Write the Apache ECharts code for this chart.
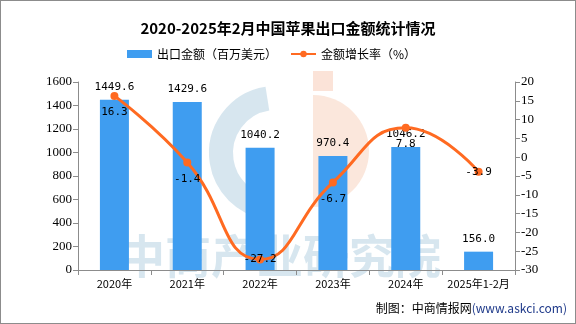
<!DOCTYPE html>
<html><head><meta charset="utf-8">
<script src="https://cdn.jsdelivr.net/npm/echarts@6/dist/echarts.min.js"></script>
<style>
html,body{margin:0;padding:0;background:#fff;}
#c{width:574px;height:322px;border:1px solid #8c8c8c;}
</style></head>
<body><div id="c"></div>
<script>
const categories = ['2020年','2021年','2022年','2023年','2024年','2025年1-2月'];
const exportValue = [1449.6,1429.6,1040.2,970.4,1046.2,156.0];
const growthRate = [16.3,-1.4,-27.2,-6.7,7.8,-3.9];
const growthLabelPos = ['bottom','bottom','inside','bottom','bottom','inside'];
const leftTicks = {min:0,max:1600,interval:200};
const rightTicks = {min:-30,max:20,interval:5};

const chart = echarts.init(document.getElementById('c'));
const CJK = '"Noto Sans CJK SC", sans-serif';
chart.setOption({
  animation:false,
  title:{text:'2020-2025年2月中国苹果出口金额统计情况',left:'center',top:15,
    textStyle:{fontFamily:CJK,fontSize:15,fontWeight:'bold',color:'#000'}},
  legend:{left:121,top:42,itemWidth:25,itemHeight:8,itemGap:13,
    textStyle:{fontFamily:CJK,fontSize:12,color:'#000'},
    data:[{name:'出口金额（百万美元）',icon:'rect'},{name:'金额增长率（%）'}]},
  grid:{left:77,right:60,top:81,bottom:53},
  xAxis:{type:'category',data:categories,
    axisLine:{lineStyle:{color:'#8c8c8c'}},
    axisTick:{show:true,lineStyle:{color:'#8c8c8c'}},
    axisLabel:{color:'#000',fontFamily:CJK,fontSize:11,margin:8,interval:0}},
  yAxis:[
    {type:'value',min:leftTicks.min,max:leftTicks.max,interval:leftTicks.interval,
     axisLine:{show:true,lineStyle:{color:'#8c8c8c'}},
     axisTick:{show:true,lineStyle:{color:'#8c8c8c'}},
     splitLine:{show:false},
     axisLabel:{color:'#000',fontFamily:'"Liberation Serif", serif',fontSize:13,margin:6,formatter:v=>String(v)}},
    {type:'value',min:rightTicks.min,max:rightTicks.max,interval:rightTicks.interval,
     axisLine:{show:true,lineStyle:{color:'#8c8c8c'}},
     axisTick:{show:true,lineStyle:{color:'#8c8c8c'}},
     splitLine:{show:false},
     axisLabel:{color:'#000',fontFamily:'"Liberation Serif", serif',fontSize:13,margin:6,formatter:v=>String(v)}}
  ],
  series:[
    {name:'出口金额（百万美元）',type:'bar',data:exportValue,barWidth:29,
     itemStyle:{color:'#3F9DF0'},
     label:{show:true,position:'top',color:'#000',fontFamily:'"DejaVu Sans Mono", monospace',fontSize:11,
       formatter:p=>p.value.toFixed(1),distance:7}},
    {name:'金额增长率（%）',type:'line',yAxisIndex:1,smooth:0.5,
     data:growthRate.map((v,i)=>({value:v,label:{position:growthLabelPos[i]}})),
     symbol:'circle',symbolSize:8,
     lineStyle:{color:'#FF6A21',width:3},itemStyle:{color:'#FF6A21'},
     label:{show:true,color:'#000',fontFamily:'"DejaVu Sans Mono", monospace',fontSize:11,distance:7,
       formatter:p=>p.value.toFixed(1)}}
  ],
  graphic:[
    {type:'group',z:100,silent:true,children:[
      {type:'arc',shape:{cx:275,cy:152,r:55,startAngle:Math.PI*1.45,endAngle:Math.PI*0.55,clockwise:false},
       style:{stroke:'#9cc0d8',lineWidth:24,fill:null,opacity:0.4}},
      {type:'rect',shape:{x:312,y:70,width:20,height:20},style:{fill:'#f6c2a8',opacity:0.45}},
      {type:'sector',shape:{cx:312,cy:150,r0:0,r:56,startAngle:-Math.PI/2,endAngle:Math.PI/2},
       style:{fill:'#f6c2a8',opacity:0.4}},
      {type:'text',left:118,top:232,style:{text:'中商产业研究院',font:'bold 46px "Noto Sans CJK SC"',fill:'#9cc0d8',opacity:0.4}}
    ]},
    {type:'text',right:8,top:301,z:100,style:{rich:{a:{fill:'#000',fontSize:12,fontFamily:'"Noto Sans CJK SC"'},b:{fill:'#1f3a8a',fontSize:12,fontFamily:'"Noto Sans CJK SC"'}},text:'{a|制图：中商情报网}{b|(www.askci.com)}'}}
  ]
});
</script></body></html>
